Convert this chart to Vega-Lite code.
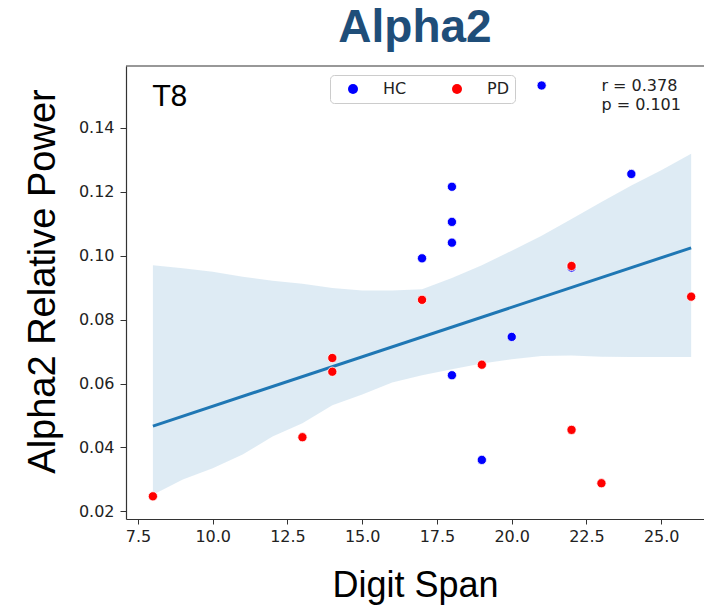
{
  "$schema": "https://vega.github.io/schema/vega-lite/v6.json",
  "width": 578,
  "height": 453,
  "autosize": "none",
  "padding": {"left": 126, "top": 66, "right": 0, "bottom": 86},
  "config": {"view": {"stroke": null}, "font": "DejaVu Sans"},
  "title": {"text": "Alpha2", "fontSize": 46, "fontWeight": "bold", "font": "Liberation Sans", "color": "#1F4E79", "baseline": "alphabetic", "offset": -23, "anchor": "middle"},
  "datasets": {
    "points": [
      {"group": "HC", "digit": 21, "alpha2": 0.1533},
      {"group": "HC", "digit": 18, "alpha2": 0.1216},
      {"group": "HC", "digit": 18, "alpha2": 0.1106},
      {"group": "HC", "digit": 18, "alpha2": 0.1041},
      {"group": "HC", "digit": 24, "alpha2": 0.1256},
      {"group": "HC", "digit": 17, "alpha2": 0.0992},
      {"group": "HC", "digit": 20, "alpha2": 0.0746},
      {"group": "HC", "digit": 18, "alpha2": 0.0626},
      {"group": "HC", "digit": 19, "alpha2": 0.0361},
      {"group": "HC", "digit": 22, "alpha2": 0.0963},
      {"group": "PD", "digit": 17, "alpha2": 0.0862},
      {"group": "PD", "digit": 22, "alpha2": 0.0968},
      {"group": "PD", "digit": 26, "alpha2": 0.0872},
      {"group": "PD", "digit": 19, "alpha2": 0.0659},
      {"group": "PD", "digit": 22, "alpha2": 0.0455},
      {"group": "PD", "digit": 23, "alpha2": 0.0288},
      {"group": "PD", "digit": 14, "alpha2": 0.0680},
      {"group": "PD", "digit": 14, "alpha2": 0.0637},
      {"group": "PD", "digit": 13, "alpha2": 0.0432},
      {"group": "PD", "digit": 8, "alpha2": 0.0247}
    ],
    "band": [
      {"digit": 8, "lo": 0.0252, "hi": 0.0970},
      {"digit": 9, "lo": 0.0300, "hi": 0.0961},
      {"digit": 10, "lo": 0.0335, "hi": 0.0950},
      {"digit": 11, "lo": 0.0378, "hi": 0.0934},
      {"digit": 12, "lo": 0.0434, "hi": 0.0922},
      {"digit": 13, "lo": 0.0476, "hi": 0.0912},
      {"digit": 14, "lo": 0.0532, "hi": 0.0899},
      {"digit": 15, "lo": 0.0566, "hi": 0.0891},
      {"digit": 16, "lo": 0.0603, "hi": 0.0891},
      {"digit": 17, "lo": 0.0626, "hi": 0.0895},
      {"digit": 18, "lo": 0.0645, "hi": 0.0930},
      {"digit": 19, "lo": 0.0663, "hi": 0.0970},
      {"digit": 20, "lo": 0.0676, "hi": 0.1016},
      {"digit": 21, "lo": 0.0686, "hi": 0.1063},
      {"digit": 22, "lo": 0.0688, "hi": 0.1115},
      {"digit": 23, "lo": 0.0684, "hi": 0.1168},
      {"digit": 24, "lo": 0.0683, "hi": 0.1220},
      {"digit": 25, "lo": 0.0683, "hi": 0.1268},
      {"digit": 26, "lo": 0.0683, "hi": 0.1319}
    ],
    "panel": [{"label": "T8"}],
    "stats": [{"label": "r = 0.378\np = 0.101"}]
  },
  "layer": [
    {
      "data": {"name": "band"},
      "mark": {"type": "area", "color": "#1f77b4", "opacity": 0.15},
      "encoding": {
        "x": {"field": "digit", "type": "quantitative", "scale": {"domain": [7.1, 26.43], "nice": false, "zero": false},
              "title": "Digit Span",
              "axis": {"values": [7.5, 10, 12.5, 15, 17.5, 20, 22.5, 25], "format": ".1f", "grid": false,
                       "titleFont": "Liberation Sans", "titleFontSize": 36, "titleFontWeight": "normal", "titleColor": "black",
                       "titleBaseline": "alphabetic", "titleY": 77,
                       "labelFont": "DejaVu Sans", "labelFontSize": 16, "labelColor": "#222222", "labelPadding": 4,
                       "tickSize": 5, "tickColor": "#333333", "domainColor": "#333333", "domainWidth": 1.2}},
        "y": {"field": "lo", "type": "quantitative", "scale": {"domain": [0.0176, 0.1594], "nice": false, "zero": false},
              "title": "Alpha2 Relative Power",
              "axis": {"values": [0.02, 0.04, 0.06, 0.08, 0.1, 0.12, 0.14], "format": ".2f", "grid": false,
                       "titleFont": "Liberation Sans", "titleFontSize": 38, "titleFontWeight": "normal", "titleColor": "black",
                       "titleAngle": 270, "titleAlign": "center", "titleBaseline": "alphabetic", "titleX": -72, "titleY": 215,
                       "labelFont": "DejaVu Sans", "labelFontSize": 16, "labelColor": "#222222", "labelPadding": 6,
                       "tickSize": 6, "tickColor": "#333333", "domainColor": "#333333", "domainWidth": 1.2}},
        "y2": {"field": "hi"}
      }
    },
    {
      "data": {"name": "panel"},
      "mark": {"type": "rule", "color": "#333333", "strokeWidth": 1.2},
      "encoding": {
        "y": {"datum": 0.1594, "type": "quantitative"}
      }
    },
    {
      "data": {"name": "points"},
      "transform": [{"regression": "alpha2", "on": "digit", "extent": [8, 26]}],
      "mark": {"type": "line", "color": "#1f77b4", "strokeWidth": 3},
      "encoding": {
        "x": {"field": "digit", "type": "quantitative"},
        "y": {"field": "alpha2", "type": "quantitative"}
      }
    },
    {
      "data": {"name": "points"},
      "mark": {"type": "circle", "size": 85, "opacity": 1, "stroke": "white", "strokeWidth": 0.8},
      "encoding": {
        "x": {"field": "digit", "type": "quantitative"},
        "y": {"field": "alpha2", "type": "quantitative"},
        "color": {"field": "group", "type": "nominal", "scale": {"domain": ["HC", "PD"], "range": ["#0000ff", "#ff0000"]},
                  "legend": {"title": null, "orient": "none", "legendX": 204, "legendY": 9, "direction": "horizontal",
                             "fillColor": "white", "strokeColor": "#cccccc", "cornerRadius": 4, "padding": 6,
                             "symbolType": "circle", "symbolSize": 100, "symbolOffset": 9, "symbolStrokeWidth": 0,
                             "labelOffset": 22, "columnPadding": 33, "labelFontSize": 16, "labelFont": "DejaVu Sans", "labelColor": "#222222"}}
      }
    },
    {
      "data": {"name": "panel"},
      "mark": {"type": "text", "align": "left", "baseline": "alphabetic", "fontSize": 28, "font": "DejaVu Sans", "color": "black"},
      "encoding": {
        "x": {"datum": 8.0, "type": "quantitative"},
        "y": {"datum": 0.1468, "type": "quantitative"},
        "text": {"field": "label"}
      }
    },
    {
      "data": {"name": "stats"},
      "mark": {"type": "text", "align": "left", "baseline": "alphabetic", "fontSize": 16, "font": "DejaVu Sans", "color": "#222222", "lineBreak": "\n", "lineHeight": 18.5},
      "encoding": {
        "x": {"datum": 23.0, "type": "quantitative"},
        "y": {"datum": 0.1515, "type": "quantitative"},
        "text": {"field": "label"}
      }
    }
  ]
}
